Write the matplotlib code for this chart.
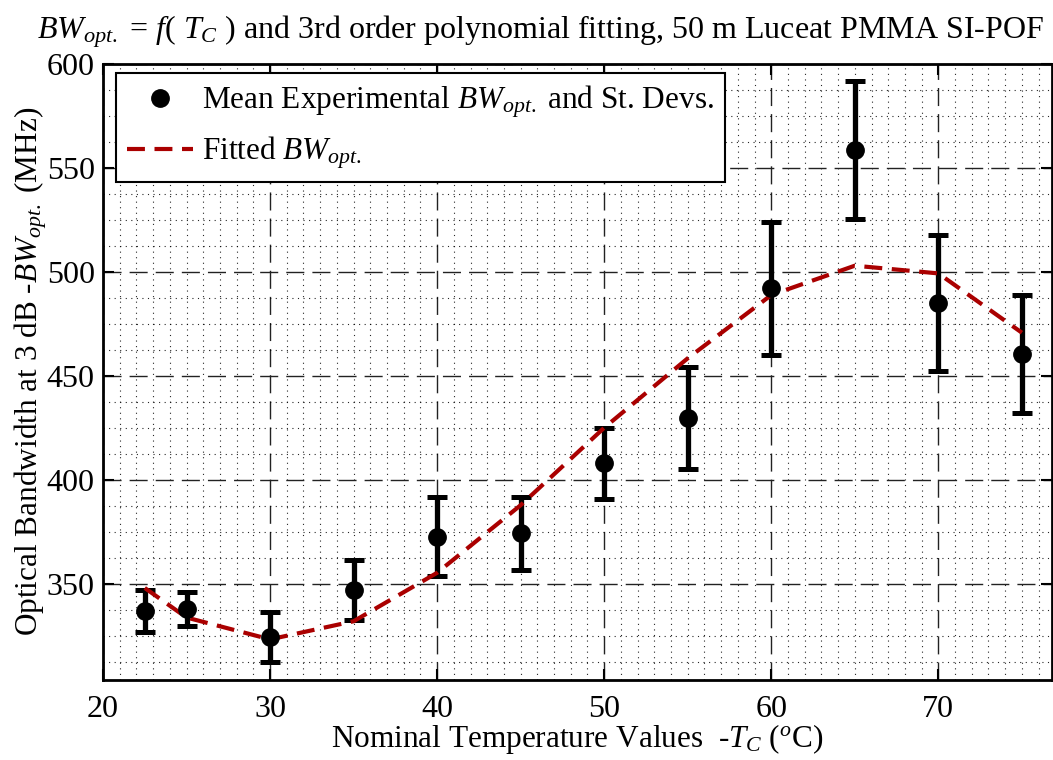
import matplotlib
matplotlib.use("Agg")
import matplotlib.pyplot as plt
from matplotlib.ticker import MultipleLocator
import numpy as np

plt.rcParams['font.family'] = ['Liberation Serif', 'DejaVu Serif']
plt.rcParams['mathtext.fontset'] = 'custom'
plt.rcParams['mathtext.rm'] = 'Liberation Serif'
plt.rcParams['mathtext.it'] = 'Liberation Serif:italic'
plt.rcParams['mathtext.bf'] = 'Liberation Serif:bold'

# Data
temps = [22.5, 25, 30, 35, 40, 45, 50, 55, 60, 65, 70, 75]
bw_mean = [337.0, 337.9, 324.4, 347.0, 372.6, 374.2, 408.0, 429.5, 492.0, 558.5, 484.8, 460.4]
bw_std = [10.0, 8.2, 12.0, 14.6, 19.0, 17.5, 17.0, 24.5, 32.0, 33.0, 32.7, 28.3]
bw_fit = [348.0, 333.8, 323.3, 332.0, 355.3, 387.8, 425.0, 458.4, 488.8, 502.9, 499.2, 470.7]
xticks = [20, 30, 40, 50, 60, 70]
yticks = [350, 400, 450, 500, 550, 600]

fig = plt.figure(figsize=(10.53, 7.6), dpi=100)
ax = fig.add_axes([0.0978, 0.1059, 0.9012, 0.8103])

ax.set_xlim(20, 76.8)
ax.set_ylim(304, 600)
ax.set_xticks(xticks)
ax.set_yticks(yticks)
ax.xaxis.set_minor_locator(MultipleLocator(1))
ax.yaxis.set_minor_locator(MultipleLocator(12.5))

ax.grid(which='minor', color='black', linestyle=(0, (1, 4)), linewidth=0.8, alpha=0.85)
ax.grid(which='major', color='#222222', linestyle=(0, (13, 5.8)), linewidth=1.0)
ax.set_axisbelow(True)

ax.errorbar(temps, bw_mean, yerr=bw_std, fmt='none', ecolor='black',
            elinewidth=3.8, capsize=7.2, capthick=3.6, zorder=3)
fit_line, = ax.plot(temps, bw_fit, color='#aa0000', linewidth=3.0,
                    linestyle=(0, (4.3, 2.3)), zorder=4,
                    label=r'Fitted $BW_{opt.}$')
pts, = ax.plot(temps, bw_mean, 'o', color='black', markersize=12.5, zorder=5,
               label=r'Mean Experimental $BW_{opt.}$ and St. Devs.')

for s in ax.spines.values():
    s.set_linewidth(2.0)
ax.tick_params(which='major', direction='in', length=8, width=1.5,
               top=True, right=True, labelsize=23)
ax.tick_params(axis='x', which='major', pad=11)
ax.tick_params(axis='y', which='major', pad=6)
ax.tick_params(which='minor', direction='in', length=0, top=True, right=True)

fig.text(0.513, 1 - 32 / 760,
         r'$BW_{opt.}$ = $f$( $T_C$ ) and 3rd order polynomial fitting, 50 m Luceat PMMA SI-POF',
         fontsize=23, ha='center', va='center')
ax.set_xlabel(r'Nominal Temperature Values  -$T_C$ ($^o$C)', fontsize=22.5, labelpad=-1)
ax.set_ylabel(r'Optical Bandwidth at 3 dB -$BW_{opt.}$ (MHz)', fontsize=22.5, labelpad=-2)

leg = ax.legend(handles=[pts, fit_line], loc='upper left',
                bbox_to_anchor=(0.0137, 0.985), borderaxespad=0,
                fontsize=22.5, frameon=True,
                fancybox=False, framealpha=1, edgecolor='black',
                handlelength=2.1, handletextpad=0.3, borderpad=0.35,
                labelspacing=0.45)
leg.get_frame().set_linewidth(1.5)

fig.savefig('out.png', dpi=100)
